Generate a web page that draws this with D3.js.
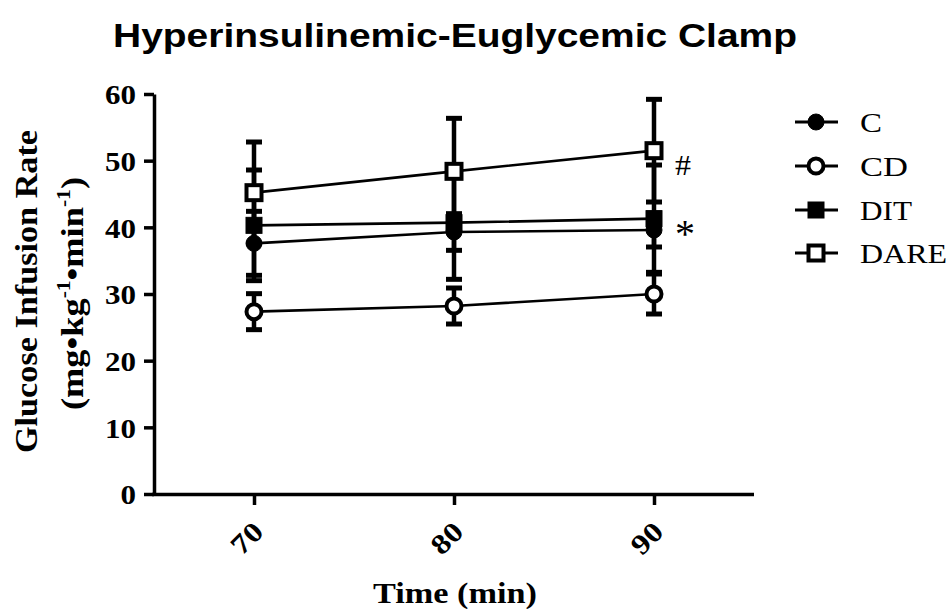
<!DOCTYPE html>
<html>
<head>
<meta charset="utf-8">
<script src="https://cdn.jsdelivr.net/npm/d3@7"></script>
<style>
  body { margin: 0; background: #fff; }
  svg { display: block; }
</style>
</head>
<body>
<svg width="951" height="609"></svg>
<script>
// data
var times = [70, 80, 90];
var groups = ["C", "CD", "DIT", "DARE"];
var cMean = [37.6, 39.3, 39.6];
var cErr = [4.8, 2.75, 2.55];
var cdMean = [27.35, 28.2, 30.0];
var cdErr = [2.7, 2.7, 3.0];
var ditMean = [40.3, 40.7, 41.3];
var ditErr = [8.3, 8.5, 8.05];
var dareMean = [45.2, 48.4, 51.5];
var dareErr = [7.6, 7.95, 7.7];
var yTicks = [0, 10, 20, 30, 40, 50, 60];
var xTicks = [70, 80, 90];

var serif = "'Liberation Serif', 'Times New Roman', serif";
var sans = "'Liberation Sans', Arial, sans-serif";

var svg = d3.select("svg");

var x = d3.scaleLinear().domain([65, 95]).range([154, 754]);
var y = d3.scaleLinear().domain([0, 60]).range([494, 94]);

var series = [
  {name: "C", mean: cMean, err: cErr, shape: "circle", fill: "#000"},
  {name: "CD", mean: cdMean, err: cdErr, shape: "circle", fill: "#fff"},
  {name: "DIT", mean: ditMean, err: ditErr, shape: "square", fill: "#000"},
  {name: "DARE", mean: dareMean, err: dareErr, shape: "square", fill: "#fff"}
];
series.forEach(function(s) {
  s.points = times.map(function(t, i) { return {t: t, v: s.mean[i], e: s.err[i]}; });
});

// title
svg.append("text")
  .attr("x", 455).attr("y", 47)
  .attr("text-anchor", "middle")
  .attr("font-family", sans).attr("font-weight", "bold").attr("font-size", 34)
  .attr("textLength", 684).attr("lengthAdjust", "spacingAndGlyphs")
  .text("Hyperinsulinemic-Euglycemic  Clamp");

// axes
var yAxis = svg.append("g")
  .attr("transform", "translate(154,0)")
  .call(d3.axisLeft(y).tickValues(yTicks).tickSize(10).tickSizeOuter(0).tickPadding(8));

var xAxis = svg.append("g")
  .attr("transform", "translate(0,494)")
  .call(d3.axisBottom(x).tickValues(xTicks).tickSize(11).tickSizeOuter(0));

[yAxis, xAxis].forEach(function(a) {
  a.select(".domain").attr("stroke-width", 3.5);
  a.selectAll(".tick line").attr("stroke-width", 3.5);
  a.selectAll("text")
    .attr("font-family", serif).attr("font-weight", "bold").attr("font-size", 28)
    .attr("fill", "#000");
});
yAxis.selectAll("text").attr("dy", "0.35em")
  .attr("textLength", function(d) { return String(d).length * 15.5; })
  .attr("lengthAdjust", "spacingAndGlyphs");
xAxis.select(".domain").attr("d", "M152,0.5H754");
xAxis.selectAll("text")
  .attr("y", 0).attr("dy", "0.35em")
  .attr("text-anchor", "middle")
  .attr("textLength", 33).attr("lengthAdjust", "spacingAndGlyphs")
  .attr("transform", "translate(-8,44) rotate(-45)");

// axis titles
svg.append("text")
  .attr("transform", "translate(455,603)")
  .attr("text-anchor", "middle")
  .attr("font-family", serif).attr("font-weight", "bold").attr("font-size", 29)
  .attr("textLength", 164).attr("lengthAdjust", "spacingAndGlyphs")
  .text("Time (min)");

svg.append("text")
  .attr("transform", "translate(37,291.5) rotate(-90)")
  .attr("text-anchor", "middle")
  .attr("font-family", serif).attr("font-weight", "bold").attr("font-size", 32)
  .attr("textLength", 323).attr("lengthAdjust", "spacingAndGlyphs")
  .text("Glucose Infusion Rate");

var unit = svg.append("text")
  .attr("transform", "translate(83,293.5) rotate(-90)")
  .attr("text-anchor", "middle")
  .attr("font-family", serif).attr("font-weight", "bold").attr("font-size", 32)
  .attr("textLength", 233).attr("lengthAdjust", "spacingAndGlyphs");
unit.append("tspan").text("(mg\u2022kg");
unit.append("tspan").attr("font-size", 19).attr("dy", -13).text("-1");
unit.append("tspan").attr("dy", 13).text("\u2022min");
unit.append("tspan").attr("font-size", 19).attr("dy", -13).text("-1");
unit.append("tspan").attr("dy", 13).text(")");

// lines
var line = d3.line().x(function(d) { return x(d.t); }).y(function(d) { return y(d.v); });
var plot = svg.append("g");
series.forEach(function(s) {
  plot.append("path")
    .datum(s.points)
    .attr("d", line)
    .attr("fill", "none")
    .attr("stroke", "#000")
    .attr("stroke-width", 2.6);
});

// error bars
series.forEach(function(s) {
  var eb = plot.append("g").selectAll("g").data(s.points).enter().append("g");
  eb.append("line")
    .attr("x1", function(d) { return x(d.t); }).attr("x2", function(d) { return x(d.t); })
    .attr("y1", function(d) { return y(d.v + d.e); }).attr("y2", function(d) { return y(d.v - d.e); })
    .attr("stroke", "#000").attr("stroke-width", 4.5);
  [1, -1].forEach(function(sign) {
    eb.append("line")
      .attr("x1", function(d) { return x(d.t) - 8; }).attr("x2", function(d) { return x(d.t) + 8; })
      .attr("y1", function(d) { return y(d.v + sign * d.e); }).attr("y2", function(d) { return y(d.v + sign * d.e); })
      .attr("stroke", "#000").attr("stroke-width", 5);
  });
});

function drawMarker(g, s, cx, cy) {
  if (s.shape == "circle") {
    g.append("circle")
      .attr("cx", cx).attr("cy", cy)
      .attr("r", s.fill == "#000" ? 8 : 7.5)
      .attr("fill", s.fill).attr("stroke", "#000")
      .attr("stroke-width", s.fill == "#000" ? 1 : 4);
  } else {
    var side = s.fill == "#000" ? 16 : 15;
    g.append("rect")
      .attr("x", cx - side / 2).attr("y", cy - side / 2)
      .attr("width", side).attr("height", side)
      .attr("fill", s.fill).attr("stroke", "#000")
      .attr("stroke-width", s.fill == "#000" ? 1 : 4);
  }
}

// markers
series.forEach(function(s) {
  s.points.forEach(function(d) {
    drawMarker(plot, s, x(d.t), y(d.v));
  });
});

// significance marks
svg.append("text")
  .attr("x", 675).attr("y", 175)
  .attr("font-family", serif).attr("font-size", 30)
  .attr("textLength", 16).attr("lengthAdjust", "spacingAndGlyphs")
  .text("#");
svg.append("text")
  .attr("x", 675).attr("y", 247)
  .attr("font-family", serif).attr("font-size", 40)
  .text("*");

// legend
var legendY = [122, 166, 210, 253];
var legendW = [22, 48, 52, 87];
var legend = svg.append("g");
series.forEach(function(s, i) {
  var ly = legendY[i];
  legend.append("line")
    .attr("x1", 795).attr("x2", 838)
    .attr("y1", ly).attr("y2", ly)
    .attr("stroke", "#000").attr("stroke-width", 3);
  drawMarker(legend, s, 816, ly);
  legend.append("text")
    .attr("x", 860).attr("y", ly + 10)
    .attr("font-family", serif).attr("font-size", 28)
    .attr("textLength", legendW[i]).attr("lengthAdjust", "spacingAndGlyphs")
    .text(groups[i]);
});
</script>
</body>
</html>
